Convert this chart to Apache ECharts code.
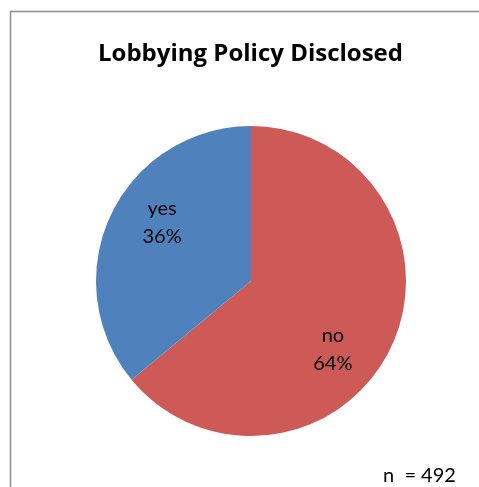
<!DOCTYPE html>
<html><head><meta charset="utf-8">
<script src="https://cdn.jsdelivr.net/npm/echarts@6/dist/echarts.min.js"></script>
<style>html,body{margin:0;padding:0;background:#fff}#c{width:479px;height:487px}</style>
</head><body><div id="c"></div>
<script>
const categories = ['no', 'yes'];
const values = [64, 36];
const titleText = 'Lobbying Policy Disclosed';
const noteText = 'n  = 492';

const colors = ['#CD5A56', '#4F81BD'];
const labelOffsets = [[-19, 21], [12, -11]];
const R = 155;
const chart = echarts.init(document.getElementById('c'));
chart.setOption({
  animation: false,
  title: {
    text: titleText, left: 93, top: 37,
    textStyle: { fontFamily: 'Open Sans', fontWeight: 'bold', fontSize: 24, color: '#000' }
  },
  graphic: [
    { type: 'rect', shape: { x: 10.5, y: 11.5, width: 600, height: 600 },
      style: { fill: null, stroke: '#8c8c8c', lineWidth: 1.5 }, silent: true },
    { type: 'text', left: 383, top: 466,
      style: { text: noteText, fontFamily: 'Lato', fontSize: 20, fill: '#000' } }
  ],
  series: [
    {
      type: 'pie', center: [251, 281], radius: [0, R], startAngle: 90, clockwise: true,
      silent: true, label: { show: false }, labelLine: { show: false },
      data: categories.map((c, i) => ({ name: c, value: values[i], itemStyle: { color: colors[i] } }))
    },
    {
      type: 'pie', center: [251, 281], radius: [R * 0.4, R], startAngle: 90, clockwise: true,
      silent: true, labelLine: { show: false },
      itemStyle: { color: 'rgba(0,0,0,0)' },
      label: {
        show: true, position: 'inside', fontFamily: 'Lato', fontSize: 20, color: '#000',
        lineHeight: 28, formatter: p => p.name + '\n' + p.value + '%'
      },
      data: categories.map((c, i) => ({ name: c, value: values[i], label: { offset: labelOffsets[i] } }))
    }
  ]
});
</script></body></html>
